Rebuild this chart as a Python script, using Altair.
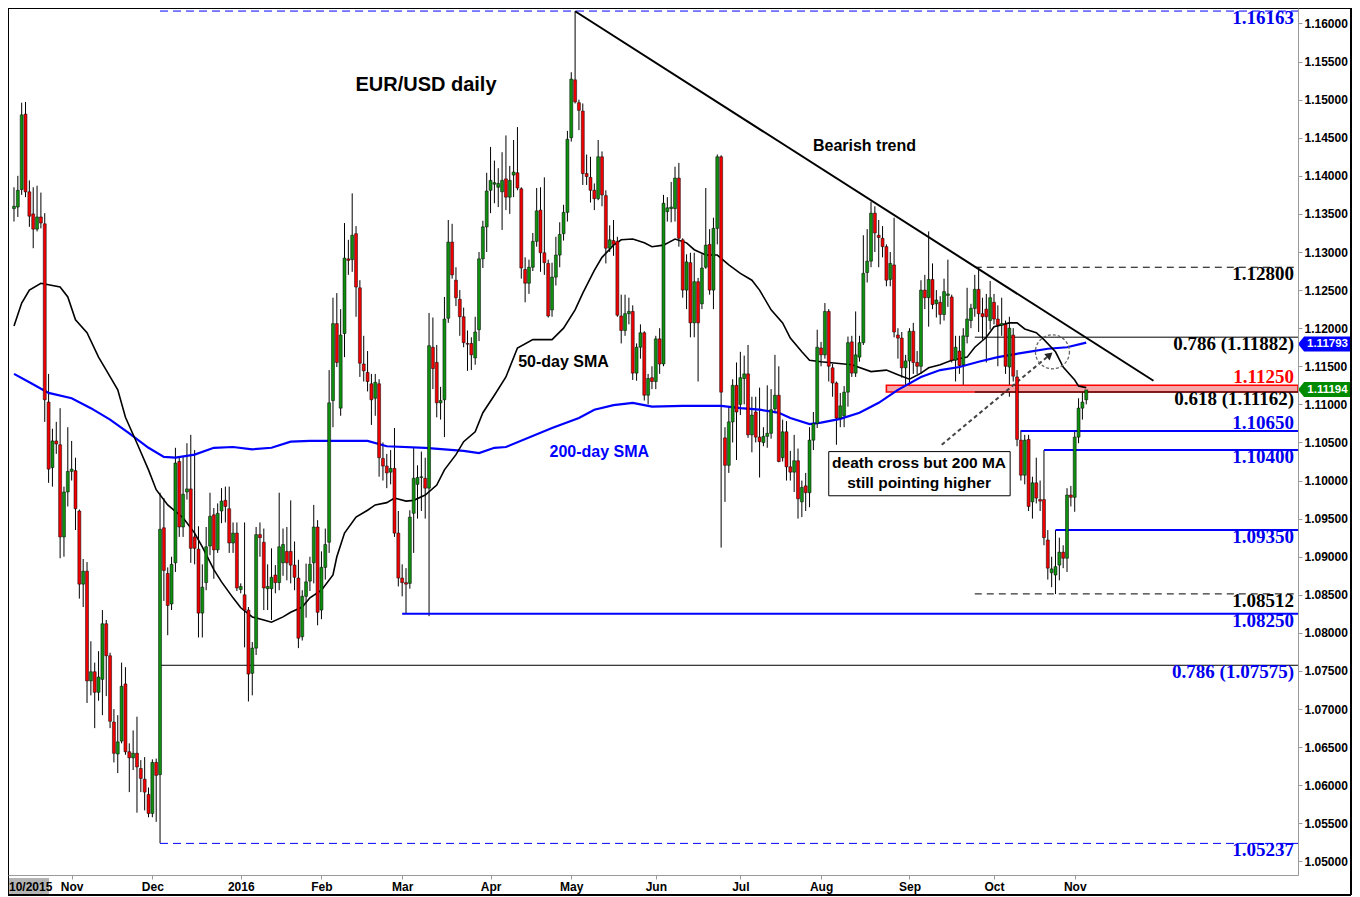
import altair as alt
import pandas as pd

# ---------------- candle data (EUR/USD daily, one entry per trading day) ----------------
opens = [
    1.1357, 1.1359, 1.1382, 1.1481, 1.1379, 1.1350, 1.1330, 1.1346, 1.1337, 1.1103,
    1.1017, 1.1052, 1.1047, 1.0926, 1.0985, 1.1012, 1.1013, 1.0960, 1.0864, 1.0881,
    1.0737, 1.0749, 1.0722, 1.0739, 1.0812, 1.0770, 1.0683, 1.0641, 1.0658, 1.0733,
    1.0644, 1.0636, 1.0642, 1.0622, 1.0608, 1.0588, 1.0563, 1.0630, 1.0614, 1.0938,
    1.0878, 1.0838, 1.0892, 1.1025, 1.0939, 1.0985, 1.0989, 1.0926, 1.0910, 1.0826,
    1.0866, 1.0914, 1.0955, 1.0909, 1.0960, 1.0974, 1.0963, 1.0918, 1.0931, 1.0857,
    1.0850, 1.0830, 1.0747, 1.0780, 1.0929, 1.0919, 1.0858, 1.0858, 1.0876, 1.0866,
    1.0892, 1.0907, 1.0907, 1.0889, 1.0872, 1.0795, 1.0848, 1.0868, 1.0892, 1.0939,
    1.0830, 1.0886, 1.0919, 1.1105, 1.1206, 1.1095, 1.1193, 1.1291, 1.1290, 1.1324,
    1.1253, 1.1153, 1.1142, 1.1127, 1.1108, 1.1127, 1.1029, 1.1019, 1.1011, 1.1016,
    1.0931, 1.0872, 1.0866, 1.0865, 1.0957, 1.0995, 1.1004, 1.1003, 1.0990, 1.1175,
    1.1155, 1.1102, 1.1106, 1.1213, 1.1313, 1.1263, 1.1238, 1.1215, 1.1180, 1.1180,
    1.1161, 1.1198, 1.1291, 1.1333, 1.1381, 1.1389, 1.1385, 1.1379, 1.1396, 1.1372,
    1.1401, 1.1404, 1.1383, 1.1277, 1.1259, 1.1280, 1.1314, 1.1355, 1.1299, 1.1285,
    1.1224, 1.1267, 1.1296, 1.1324, 1.1352, 1.1450, 1.1526, 1.1496, 1.1485, 1.1403,
    1.1398, 1.1381, 1.1370, 1.1425, 1.1374, 1.1305, 1.1315, 1.1314, 1.1216, 1.1197,
    1.1219, 1.1222, 1.1141, 1.1175, 1.1194, 1.1112, 1.1135, 1.1130, 1.1186, 1.1153,
    1.1353, 1.1357, 1.1357, 1.1397, 1.1316, 1.1250, 1.1286, 1.1207, 1.1261, 1.1232,
    1.1280, 1.1310, 1.1250, 1.1331, 1.1425, 1.1056, 1.1020, 1.1077, 1.1125, 1.1100,
    1.1134, 1.1140, 1.1060, 1.1090, 1.1057, 1.1050, 1.1058, 1.1062, 1.1094, 1.1112,
    1.1030, 1.1064, 1.1018, 1.1011, 1.1026, 1.0972, 1.0993, 1.0984, 1.1053, 1.1075,
    1.1174, 1.1165, 1.1222, 1.1148, 1.1128, 1.1082, 1.1085, 1.1116, 1.1182, 1.1141,
    1.1162, 1.1181, 1.1273, 1.1288, 1.1351, 1.1322, 1.1318, 1.1307, 1.1264, 1.1283,
    1.1191, 1.1187, 1.1148, 1.1157, 1.1196, 1.1155, 1.1150, 1.1250, 1.1240, 1.1264,
    1.1232, 1.1234, 1.1218, 1.1243, 1.1241, 1.1158, 1.1170, 1.1152, 1.1189, 1.1210,
    1.1226, 1.1251, 1.1219, 1.1225, 1.1210, 1.1234, 1.1212, 1.1204, 1.1205, 1.1149,
    1.1191, 1.1136, 1.1053, 1.1007, 1.1054, 1.0972, 1.0997, 1.0975, 1.0975, 1.0922,
    1.0879, 1.0876, 1.0889, 1.0906, 1.0898, 1.0981, 1.0978, 1.1057, 1.1095, 1.1106,
]
highs = [
    1.1385, 1.1400, 1.1496, 1.1497, 1.1394, 1.1385, 1.1387, 1.1378, 1.1351, 1.1140,
    1.1068, 1.1077, 1.1095, 1.0992, 1.1070, 1.1052, 1.1030, 1.0962, 1.0897, 1.0893,
    1.0789, 1.0761, 1.0776, 1.0830, 1.0817, 1.0774, 1.0700, 1.0692, 1.0761, 1.0755,
    1.0655, 1.0672, 1.0690, 1.0633, 1.0637, 1.0597, 1.0634, 1.0635, 1.0984, 1.0977,
    1.0886, 1.0900, 1.1043, 1.1031, 1.1031, 1.1049, 1.1060, 1.1040, 1.0940, 1.0890,
    1.0939, 1.0984, 1.0964, 1.0970, 1.0990, 1.0992, 1.0992, 1.0945, 1.0945, 1.0865,
    1.0945, 1.0834, 1.0788, 1.0939, 1.0945, 1.0937, 1.0890, 1.0911, 1.0889, 1.0984,
    1.0937, 1.0939, 1.0974, 1.0920, 1.0896, 1.0856, 1.0891, 1.0900, 1.0968, 1.0948,
    1.0907, 1.0937, 1.1145, 1.1240, 1.1246, 1.1225, 1.1338, 1.1316, 1.1377, 1.1334,
    1.1263, 1.1190, 1.1170, 1.1140, 1.1140, 1.1133, 1.1050, 1.1035, 1.1040, 1.1069,
    1.0960, 1.0890, 1.0885, 1.0961, 1.1044, 1.1020, 1.1038, 1.1030, 1.1220, 1.1214,
    1.1178, 1.1123, 1.1241, 1.1342, 1.1337, 1.1280, 1.1250, 1.1227, 1.1197, 1.1188,
    1.1215, 1.1300, 1.1341, 1.1404, 1.1438, 1.1420, 1.1410, 1.1431, 1.1453, 1.1413,
    1.1447, 1.1464, 1.1385, 1.1293, 1.1290, 1.1325, 1.1384, 1.1385, 1.1398, 1.1290,
    1.1286, 1.1320, 1.1339, 1.1362, 1.1459, 1.1536, 1.1616, 1.1500, 1.1495, 1.1428,
    1.1425, 1.1390, 1.1447, 1.1432, 1.1381, 1.1335, 1.1342, 1.1320, 1.1244, 1.1244,
    1.1240, 1.1230, 1.1180, 1.1205, 1.1196, 1.1140, 1.1150, 1.1190, 1.1200, 1.1375,
    1.1372, 1.1392, 1.1412, 1.1417, 1.1318, 1.1297, 1.1299, 1.1299, 1.1266, 1.1297,
    1.1384, 1.1330, 1.1345, 1.1428, 1.1427, 1.1070, 1.1097, 1.1133, 1.1155, 1.1169,
    1.1164, 1.1178, 1.1110, 1.1110, 1.1122, 1.1070, 1.1125, 1.1120, 1.1165, 1.1150,
    1.1080, 1.1078, 1.1039, 1.1060, 1.1042, 1.1000, 1.1010, 1.1070, 1.1090, 1.1198,
    1.1182, 1.1233, 1.1225, 1.1153, 1.1130, 1.1115, 1.1124, 1.1189, 1.1190, 1.1222,
    1.1190, 1.1322, 1.1330, 1.1366, 1.1360, 1.1342, 1.1334, 1.1310, 1.1300, 1.1345,
    1.1200, 1.1195, 1.1165, 1.1200, 1.1207, 1.1170, 1.1263, 1.1270, 1.1327, 1.1285,
    1.1250, 1.1242, 1.1265, 1.1290, 1.1244, 1.1190, 1.1190, 1.1200, 1.1253, 1.1232,
    1.1270, 1.1280, 1.1240, 1.1245, 1.1262, 1.1245, 1.1230, 1.1240, 1.1210, 1.1215,
    1.1200, 1.1145, 1.1066, 1.1060, 1.1060, 1.1005, 1.1030, 1.1000, 1.1040, 1.0935,
    1.0900, 1.0935, 1.0925, 1.0915, 1.0990, 1.0993, 1.1064, 1.1108, 1.1124, 1.1122,
]
lows = [
    1.1340, 1.1346, 1.1375, 1.1372, 1.1333, 1.1305, 1.1327, 1.1331, 1.1077, 1.0997,
    1.0992, 1.1035, 1.0898, 1.0900, 1.0966, 1.1000, 1.0935, 1.0845, 1.0834, 1.0708,
    1.0718, 1.0675, 1.0711, 1.0692, 1.0717, 1.0675, 1.0630, 1.0616, 1.0655, 1.0640,
    1.0591, 1.0620, 1.0564, 1.0591, 1.0567, 1.0558, 1.0558, 1.0552, 1.0524, 1.0842,
    1.0797, 1.0830, 1.0880, 1.0926, 1.0926, 1.0975, 1.0892, 1.0890, 1.0794, 1.0794,
    1.0856, 1.0902, 1.0871, 1.0905, 1.0944, 1.0945, 1.0905, 1.0905, 1.0855, 1.0852,
    1.0781, 1.0710, 1.0718, 1.0771, 1.0900, 1.0830, 1.0830, 1.0817, 1.0852, 1.0856,
    1.0875, 1.0869, 1.0865, 1.0856, 1.0780, 1.0790, 1.0820, 1.0855, 1.0865, 1.0810,
    1.0818, 1.0870, 1.0905, 1.1070, 1.1149, 1.1085, 1.1162, 1.1270, 1.1274, 1.1215,
    1.1136, 1.1130, 1.1117, 1.1073, 1.1085, 1.1005, 1.1000, 1.0990, 1.0995, 1.0926,
    1.0861, 1.0848, 1.0825, 1.0858, 1.0905, 1.0950, 1.0960, 1.0950, 1.0822, 1.1120,
    1.1083, 1.1080, 1.1057, 1.1207, 1.1265, 1.1229, 1.1190, 1.1175, 1.1144, 1.1145,
    1.1152, 1.1183, 1.1279, 1.1300, 1.1351, 1.1364, 1.1359, 1.1329, 1.1355, 1.1350,
    1.1372, 1.1381, 1.1265, 1.1234, 1.1245, 1.1275, 1.1307, 1.1274, 1.1270, 1.1214,
    1.1215, 1.1256, 1.1280, 1.1315, 1.1340, 1.1445, 1.1495, 1.1460, 1.1388, 1.1388,
    1.1365, 1.1355, 1.1368, 1.1360, 1.1285, 1.1300, 1.1295, 1.1215, 1.1180, 1.1190,
    1.1205, 1.1132, 1.1131, 1.1160, 1.1105, 1.1100, 1.1120, 1.1120, 1.1140, 1.1150,
    1.1340, 1.1339, 1.1340, 1.1307, 1.1240, 1.1225, 1.1188, 1.1188, 1.1130, 1.1225,
    1.1278, 1.1244, 1.1225, 1.1310, 1.0912, 1.0972, 1.1010, 1.1050, 1.1027, 1.1086,
    1.1100, 1.1056, 1.1037, 1.1050, 1.1004, 1.1045, 1.1043, 1.1055, 1.1088, 1.1024,
    1.1025, 1.1000, 1.1000, 1.0985, 1.0950, 1.0952, 1.0960, 1.0965, 1.1040, 1.1069,
    1.1150, 1.1160, 1.1130, 1.1110, 1.1047, 1.1070, 1.1070, 1.1097, 1.1136, 1.1136,
    1.1156, 1.1178, 1.1260, 1.1280, 1.1300, 1.1280, 1.1293, 1.1255, 1.1255, 1.1188,
    1.1160, 1.1135, 1.1125, 1.1122, 1.1140, 1.1140, 1.1140, 1.1225, 1.1202, 1.1225,
    1.1214, 1.1205, 1.1210, 1.1228, 1.1155, 1.1130, 1.1140, 1.1123, 1.1180, 1.1200,
    1.1215, 1.1195, 1.1185, 1.1155, 1.1198, 1.1205, 1.1150, 1.1190, 1.1140, 1.1110,
    1.1130, 1.1045, 1.1000, 1.0995, 1.0960, 1.0950, 1.0970, 1.0960, 1.0915, 1.0870,
    1.0860, 1.0851, 1.0869, 1.0885, 1.0880, 1.0966, 1.0959, 1.1049, 1.1080, 1.1100,
]
closes = [
    1.1360, 1.1381, 1.1480, 1.1379, 1.1347, 1.1330, 1.1346, 1.1338, 1.1106, 1.1015,
    1.1052, 1.1048, 1.0926, 1.0985, 1.1012, 1.1015, 1.0963, 1.0864, 1.0881, 1.0737,
    1.0749, 1.0722, 1.0742, 1.0812, 1.0770, 1.0684, 1.0642, 1.0657, 1.0730, 1.0644,
    1.0636, 1.0642, 1.0624, 1.0609, 1.0591, 1.0563, 1.0630, 1.0613, 1.0936, 1.0882,
    1.0836, 1.0890, 1.1023, 1.0939, 1.0982, 1.0989, 1.0911, 1.0911, 1.0826, 1.0860,
    1.0913, 1.0953, 1.0909, 1.0957, 1.0973, 1.0966, 1.0918, 1.0931, 1.0859, 1.0861,
    1.0830, 1.0746, 1.0780, 1.0929, 1.0925, 1.0859, 1.0861, 1.0873, 1.0866, 1.0913,
    1.0916, 1.0892, 1.0889, 1.0873, 1.0793, 1.0848, 1.0867, 1.0890, 1.0939, 1.0827,
    1.0886, 1.0916, 1.1102, 1.1206, 1.1155, 1.1191, 1.1292, 1.1289, 1.1322, 1.1254,
    1.1154, 1.1144, 1.1130, 1.1106, 1.1129, 1.1030, 1.1019, 1.1010, 1.1016, 1.0931,
    1.0872, 1.0866, 1.0864, 1.0952, 1.1003, 1.1004, 1.1005, 1.0990, 1.1177, 1.1147,
    1.1102, 1.1105, 1.1212, 1.1313, 1.1270, 1.1240, 1.1215, 1.1181, 1.1179, 1.1165,
    1.1195, 1.1291, 1.1333, 1.1380, 1.1394, 1.1391, 1.1390, 1.1394, 1.1372, 1.1394,
    1.1405, 1.1384, 1.1279, 1.1259, 1.1280, 1.1314, 1.1354, 1.1299, 1.1286, 1.1216,
    1.1267, 1.1296, 1.1323, 1.1352, 1.1448, 1.1527, 1.1497, 1.1486, 1.1403, 1.1399,
    1.1381, 1.1370, 1.1425, 1.1375, 1.1305, 1.1316, 1.1310, 1.1217, 1.1197, 1.1219,
    1.1222, 1.1141, 1.1175, 1.1194, 1.1112, 1.1134, 1.1130, 1.1186, 1.1153, 1.1364,
    1.1358, 1.1359, 1.1397, 1.1318, 1.1250, 1.1287, 1.1207, 1.1261, 1.1207, 1.1279,
    1.1309, 1.1250, 1.1331, 1.1425, 1.1116, 1.1020, 1.1077, 1.1125, 1.1090, 1.1135,
    1.1140, 1.1060, 1.1086, 1.1057, 1.1051, 1.1058, 1.1062, 1.1093, 1.1112, 1.1025,
    1.1064, 1.1018, 1.1011, 1.1026, 1.0976, 1.0991, 1.0984, 1.1053, 1.1075, 1.1175,
    1.1165, 1.1222, 1.1150, 1.1128, 1.1082, 1.1098, 1.1116, 1.1181, 1.1141, 1.1165,
    1.1181, 1.1272, 1.1288, 1.1351, 1.1325, 1.1319, 1.1307, 1.1263, 1.1285, 1.1195,
    1.1187, 1.1148, 1.1157, 1.1196, 1.1155, 1.1150, 1.1250, 1.1240, 1.1264, 1.1231,
    1.1237, 1.1218, 1.1248, 1.1245, 1.1158, 1.1175, 1.1151, 1.1190, 1.1212, 1.1226,
    1.1251, 1.1219, 1.1215, 1.1215, 1.1240, 1.1212, 1.1204, 1.1206, 1.1150, 1.1200,
    1.1137, 1.1054, 1.1007, 1.1053, 1.0966, 1.0997, 1.0977, 1.0973, 1.0925, 1.0885,
    1.0884, 1.0887, 1.0906, 1.0898, 1.0981, 1.0978, 1.1057, 1.1095, 1.1103, 1.1119,
]

# ---------------- moving averages ----------------
sma50_days = [0, 2, 4, 7, 9, 12, 14, 16, 19, 22, 24, 27, 29, 32, 35, 37, 40, 44, 47, 49,
              52, 54, 57, 59, 62, 65, 67, 70, 72, 75, 77, 80, 83, 84, 86, 89, 92, 94, 97, 99,
              102, 104, 107, 110, 112, 115, 117, 120, 122, 125, 128, 131, 135, 140, 143, 146, 148, 151, 153, 156,
              158, 161, 164, 166, 169, 172, 175, 177, 180, 183, 186, 189, 192, 194, 197, 200, 202, 205, 207, 210,
              214, 218, 223, 227, 230, 233, 236, 238, 241, 244, 248, 250, 253, 255, 259, 261, 263, 266, 268, 271,
              273, 276, 277, 279]
sma50_vals = [1.1203, 1.1233, 1.1250, 1.1259, 1.1257, 1.1254, 1.1241, 1.1211, 1.1194, 1.1162,
              1.1145, 1.1119, 1.1083, 1.1049, 1.1014, 1.0988, 1.0968, 1.0951, 1.0931, 1.0913,
              1.0883, 1.0867, 1.0846, 1.0833, 1.0821, 1.0817, 1.0814, 1.0821, 1.0827, 1.0834,
              1.0846, 1.0856, 1.0876, 1.0900, 1.0931, 1.0952, 1.0961, 1.0968, 1.0971, 1.0977,
              1.0973, 1.0974, 1.0981, 1.0994, 1.1014, 1.1034, 1.1051, 1.1064, 1.1089, 1.1112,
              1.1136, 1.1174, 1.1185, 1.1185, 1.1200, 1.1224, 1.1246, 1.1276, 1.1293, 1.1309,
              1.1316, 1.1317, 1.1312, 1.1307, 1.1309, 1.1317, 1.1312, 1.1303, 1.1296, 1.1296,
              1.1283, 1.1272, 1.1263, 1.1250, 1.1224, 1.1207, 1.1187, 1.1169, 1.1158, 1.1156,
              1.1154, 1.1152, 1.1143, 1.1145, 1.1139, 1.1133, 1.1141, 1.1148, 1.1152, 1.1158,
              1.1162, 1.1175, 1.1188, 1.1202, 1.1207, 1.1207, 1.1199, 1.1194, 1.1185, 1.1169,
              1.1149, 1.1132, 1.1124, 1.1122]
sma200_days = [0, 4, 9, 15, 20, 25, 30, 35, 39, 42, 47, 52, 57, 62, 67, 72, 77, 86, 92, 97,
               107, 117, 121, 125, 128, 140, 147, 151, 156, 161, 166, 174, 184, 189, 194, 199, 202, 207, 210, 215,
               220, 225, 230, 236, 241, 246, 251, 256, 264, 269, 274, 279]
sma200_vals = [1.1140, 1.1129, 1.1115, 1.1108, 1.1095, 1.1080, 1.1062, 1.1043, 1.1031, 1.1030,
               1.1034, 1.1043, 1.1044, 1.1041, 1.1043, 1.1051, 1.1052, 1.1052, 1.1052, 1.1045,
               1.1043, 1.1039, 1.1036, 1.1043, 1.1044, 1.1069, 1.1082, 1.1093, 1.1099, 1.1102,
               1.1097, 1.1098, 1.1098, 1.1095, 1.1093, 1.1089, 1.1082, 1.1074, 1.1076, 1.1081,
               1.1089, 1.1102, 1.1119, 1.1136, 1.1145, 1.1149, 1.1156, 1.1162, 1.1169, 1.1173,
               1.1175, 1.1181]

# ---------------- axes ----------------
month_days = [15, 36, 59, 80, 101, 124, 145, 167, 189, 210, 233, 255, 276]
month_names = ["Nov", "Dec", "2016", "Feb", "Mar", "Apr", "May", "Jun", "Jul", "Aug", "Sep", "Oct", "Nov"]
price_ticks = [1.05, 1.055, 1.06, 1.065, 1.07, 1.075, 1.08, 1.085, 1.09, 1.095, 1.10, 1.105,
               1.11, 1.115, 1.12, 1.125, 1.13, 1.135, 1.14, 1.145, 1.15, 1.155, 1.16]

# ---------------- horizontal levels ----------------
level_prices = [1.16163, 1.12800, 1.11882, 1.11250, 1.11162, 1.10650, 1.10400, 1.09350, 1.08512, 1.08250, 1.07575, 1.05237]
level_texts = ["1.16163", "1.12800", "0.786 (1.11882)", "1.11250", "0.618 (1.11162)", "1.10650",
               "1.10400", "1.09350", "1.08512", "1.08250", "0.786 (1.07575)", "1.05237"]
level_start = [38, 250, 250, 227, 250, 262, 268, 271, 250, 101, 38, 38]
level_kind = ["bdash", "kdash", "k", "band", "k", "b", "b", "b", "kdash", "b", "k", "bdash"]
level_text_color = ["#0000ee", "#000000", "#000000", "#ff0000", "#000000", "#0000ee",
                    "#0000ee", "#0000ee", "#000000", "#0000ee", "#0000ee", "#0000ee"]
level_text_side = ["below", "below", "below", "above", "below", "above",
                   "below", "below", "below", "below", "below", "below"]

trend_days = [146, 296.5]
trend_prices = [1.1616, 1.1131]
arrow_days = [241.4, 269.5]
arrow_prices = [1.1047, 1.1165]

tag_prices = [1.11793, 1.11194]
tag_texts = ["1.11793", "1.11194"]
tag_colors = ["#0000ff", "#008a00"]

# ---------------- layout ----------------
W, H = 1290, 867
RIGHT_PAD, BOTTOM_PAD = 54, 22          # total svg = 1344 x 889 (fits page without scaling)
FRAME_R, FRAME_B = W + RIGHT_PAD - 1, H + BOTTOM_PAD - 2
GREEN, RED = "#0f8f0f", "#f00000"
FONT = "Liberation Sans"

xs = alt.Scale(domain=[-0.26, 332.8], nice=False, zero=False)
ys = alt.Scale(domain=[1.04822, 1.16203], nice=False, zero=False)

label_expr = ("[" + ",".join("'%s'" % m for m in month_names) + "][indexof(["
              + ",".join(str(d) for d in month_days) + "], datum.value)]")

x_axis = alt.Axis(values=month_days, labelExpr=label_expr, title=None, grid=False,
                  domainColor="#9a9a9a", tickColor="#9a9a9a", tickSize=4, labelPadding=2,
                  labelFont=FONT, labelFontSize=12, labelFontWeight="bold", labelColor="black",
                  labelOverlap=False, labelFlush=False, zindex=1)
y_axis = alt.Axis(orient="right", values=price_ticks, format=".5f", title=None, grid=False,
                  domainColor="#9a9a9a", tickColor="#9a9a9a", tickSize=4, labelPadding=2,
                  labelFont=FONT, labelFontSize=12, labelFontWeight="bold", labelColor="black",
                  labelOverlap=False, labelFlush=False, zindex=1)

candles = pd.DataFrame({"day": list(range(len(opens))), "open": opens, "high": highs,
                        "low": lows, "close": closes})
candles["dir"] = ["up" if c >= o else "down" for o, c in zip(opens, closes)]

X = lambda f: alt.X(f, scale=xs, axis=x_axis)
Y = lambda f: alt.Y(f, scale=ys, axis=y_axis)
one = pd.DataFrame({"k": [0]})

layers = []

# candle wicks first (defines the axes)
layers.append(alt.Chart(candles).mark_rule(color="black", strokeWidth=1).encode(
    x=X("day:Q"), y=Y("low:Q"), y2="high:Q"))

# red support band
bi = level_kind.index("band")
layers.append(alt.Chart(pd.DataFrame({"day": [level_start[bi]], "low": [level_prices[bi]], "p2": [level_prices[bi + 1]]}))
              .mark_rect(fill="#f6a6a6", stroke="#ff0000", strokeWidth=1.6)
              .encode(x=X("day:Q"), x2=alt.value(W), y=Y("low:Q"), y2="p2:Q"))

# horizontal level lines
styles = {
    "b": dict(color="#0000ff", strokeWidth=2),
    "bdash": dict(color="#0000ff", strokeWidth=1, strokeDash=[8, 5]),
    "k": dict(color="#000000", strokeWidth=1),
    "kdash": dict(color="#000000", strokeWidth=1, strokeDash=[7, 5]),
}
for p, s, k in zip(level_prices, level_start, level_kind):
    if k == "band":
        continue
    layers.append(alt.Chart(pd.DataFrame({"day": [s], "low": [p]})).mark_rule(**styles[k])
                  .encode(x=X("day:Q"), x2=alt.value(W), y=Y("low:Q")))

# moving averages
layers.append(alt.Chart(pd.DataFrame({"day": sma200_days, "low": sma200_vals}))
              .mark_line(color="#0000ff", strokeWidth=2.2).encode(x=X("day:Q"), y=Y("low:Q")))
layers.append(alt.Chart(pd.DataFrame({"day": sma50_days, "low": sma50_vals}))
              .mark_line(color="#000000", strokeWidth=1.6).encode(x=X("day:Q"), y=Y("low:Q")))

# bearish trend line
layers.append(alt.Chart(pd.DataFrame({"day": trend_days, "low": trend_prices}))
              .mark_line(color="#000000", strokeWidth=2).encode(x=X("day:Q"), y=Y("low:Q")))

# death-cross arrow and circle
layers.append(alt.Chart(pd.DataFrame({"day": arrow_days, "low": arrow_prices}))
              .mark_line(color="#444444", strokeWidth=2, strokeDash=[4, 3]).encode(x=X("day:Q"), y=Y("low:Q")))
layers.append(alt.Chart(pd.DataFrame({"day": [arrow_days[1]], "low": [arrow_prices[1]]}))
              .mark_point(shape="triangle-up", angle=50, size=70, filled=True, color="#222222", opacity=1)
              .encode(x=X("day:Q"), y=Y("low:Q")))
layers.append(alt.Chart(pd.DataFrame({"day": [270.2], "low": [1.1169]}))
              .mark_point(shape="circle", size=1156, filled=False, color="#666666", strokeWidth=1.3,
                          strokeDash=[3, 2], opacity=1)
              .encode(x=X("day:Q"), y=Y("low:Q")))

# candle bodies
layers.append(alt.Chart(candles).mark_bar(size=3, stroke="black", strokeWidth=0.5).encode(
    x=X("day:Q"), y=Y("open:Q"), y2="close:Q",
    color=alt.Color("dir:N", scale=alt.Scale(domain=["up", "down"], range=[GREEN, RED]), legend=None)))

# level labels
for t, p, c, side in zip(level_texts, level_prices, level_text_color, level_text_side):
    layers.append(alt.Chart(pd.DataFrame({"t": [t], "low": [p]}))
                  .mark_text(align="right", baseline="middle", dy=(7 if side == "below" else -8),
                             font="Liberation Serif", fontSize=19, fontWeight="bold", color=c)
                  .encode(x=alt.value(1286), y=Y("low:Q"), text="t:N"))

# annotations
def note(text, day, price, size=16, color="black"):
    return (alt.Chart(pd.DataFrame({"t": [text], "day": [day], "low": [price]}))
            .mark_text(font=FONT, fontSize=size, fontWeight="bold", color=color, baseline="middle")
            .encode(x=X("day:Q"), y=Y("low:Q"), text="t:N"))

layers.append(note("EUR/USD daily", 107.2, 1.1519, size=20))
layers.append(note("Bearish trend", 221.3, 1.1439))
layers.append(note("50-day SMA", 143.0, 1.1156))
layers.append(note("200-day SMA", 152.3, 1.1038, color="#0000ff"))
layers.append(alt.Chart(pd.DataFrame({"day": [212.0], "d2": [259.2], "low": [1.1038], "v2": [1.0980]}))
              .mark_rect(fill="white", stroke="black", strokeWidth=1)
              .encode(x=X("day:Q"), x2="d2:Q", y=Y("low:Q"), y2="v2:Q"))
layers.append(note("death cross but 200 MA", 235.5, 1.1023, size=15.5))
layers.append(note("still pointing higher", 235.5, 1.0997, size=15.5))

# price tags on the axis
TAG = "M -1 0 L -0.77 -0.283 L 1 -0.283 L 1 0.283 L -0.77 0.283 Z"
for p, t, c in zip(tag_prices, tag_texts, tag_colors):
    d = pd.DataFrame({"low": [p], "t": [t]})
    layers.append(alt.Chart(d).mark_point(shape=TAG, size=2809, filled=True, color=c, opacity=1, strokeWidth=0)
                  .encode(x=alt.value(W + 26.5), y=Y("low:Q")))
    layers.append(alt.Chart(d).mark_text(font=FONT, fontSize=11.5, fontWeight="bold", color="white", baseline="middle")
                  .encode(x=alt.value(W + 29.5), y=Y("low:Q"), text="t:N"))

# first date label with grey background
layers.append(alt.Chart(one).mark_rect(color="#b4b4b4")
              .encode(x=alt.value(0), x2=alt.value(41), y=alt.value(870), y2=alt.value(FRAME_B)))
layers.append(alt.Chart(one).mark_text(text="10/2015", font=FONT, fontSize=12, fontWeight="bold",
                                       align="left", baseline="middle", color="black")
              .encode(x=alt.value(1), y=alt.value(879)))

# frame
for enc in [dict(x=alt.value(0), x2=alt.value(FRAME_R), y=alt.value(0)),
            dict(x=alt.value(0), y=alt.value(0), y2=alt.value(FRAME_B)),
            dict(x=alt.value(FRAME_R), y=alt.value(0), y2=alt.value(FRAME_B)),
            dict(x=alt.value(0), x2=alt.value(FRAME_R), y=alt.value(FRAME_B))]:
    layers.append(alt.Chart(one).mark_rule(color="black", strokeWidth=2).encode(**enc))

chart = (alt.layer(*layers)
         .properties(width=W, height=H, autosize=alt.AutoSizeParams(type="none"),
                     padding={"left": 0, "top": 0, "right": RIGHT_PAD, "bottom": BOTTOM_PAD})
         .configure_view(strokeWidth=0)
         .configure(background="white"))

chart.save("out.html", embed_options={"renderer": "svg", "actions": False})
